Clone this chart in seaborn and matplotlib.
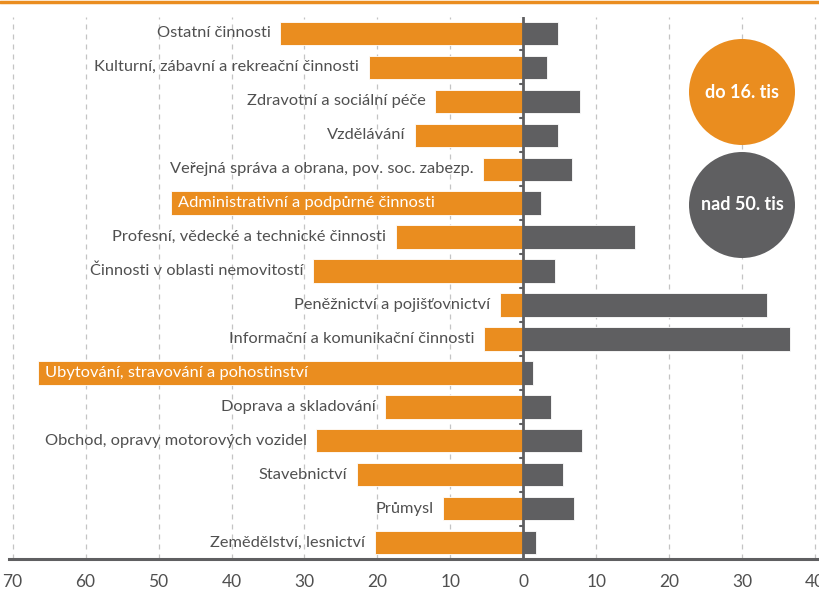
import pandas as pd
import seaborn as sns
import matplotlib.pyplot as plt
from matplotlib.lines import Line2D
from matplotlib.patches import Ellipse

sns.set_style("white")
plt.rcParams['font.family'] = ['Lato', 'DejaVu Sans']

categories = [
    "Ostatní činnosti",
    "Kulturní, zábavní a rekreační činnosti",
    "Zdravotní a sociální péče",
    "Vzdělávání",
    "Veřejná správa a obrana, pov. soc. zabezp.",
    "Administrativní a podpůrné činnosti",
    "Profesní, vědecké a technické činnosti",
    "Činnosti v oblasti nemovitostí",
    "Peněžnictví a pojišťovnictví",
    "Informační a komunikační činnosti",
    "Ubytování, stravování a pohostinství",
    "Doprava a skladování",
    "Obchod, opravy motorových vozidel",
    "Stavebnictví",
    "Průmysl",
    "Zemědělství, lesnictví",
]
do_16 = [33.3, 21.2, 12.1, 14.8, 5.5, 48.3, 17.5, 28.8, 3.2, 5.4, 66.5, 18.9, 28.4, 22.8, 11.0, 20.4]
nad_50 = [4.8, 3.2, 7.8, 4.8, 6.6, 2.4, 15.3, 4.3, 33.4, 36.5, 1.3, 3.8, 8.0, 5.4, 7.0, 1.8]
inside_labels = ["Administrativní a podpůrné činnosti", "Ubytování, stravování a pohostinství"]
xticks = [-70, -60, -50, -40, -30, -20, -10, 0, 10, 20, 30, 40]

ORANGE = "#EA8D1F"
GRAY = "#5F5F61"
TEXT = "#505050"

df = pd.DataFrame({"kat": categories, "low": [-v for v in do_16], "high": nad_50})

fig = plt.figure(figsize=(8.19, 5.92), dpi=100)
ax = fig.add_axes([0.011, 0.056, 0.987, 0.915])

sns.barplot(data=df, y="kat", x="low", color=ORANGE, orient="h", width=0.68,
            saturation=1, ax=ax, edgecolor="white", linewidth=0.6)
sns.barplot(data=df, y="kat", x="high", color=GRAY, orient="h", width=0.68,
            saturation=1, ax=ax, edgecolor="white", linewidth=0.6)

ax.set_xlim(-70.5, 40.3)
ax.set_ylim(len(categories) - 0.53, -0.47)

for x in xticks:
    if x != 0:
        ax.axvline(x, color="#c4c4c4", lw=0.9, ls=(0, (4, 4)), zorder=0)
ax.axvline(0, color=GRAY, lw=2, zorder=5)
for i in range(len(categories) + 1):
    ax.plot([-0.45, 0], [i - 0.5, i - 0.5], color=GRAY, lw=1.5, zorder=5)

for i, (name, v) in enumerate(zip(categories, do_16)):
    if name in inside_labels:
        ax.text(-v + 0.9, i, name, ha="left", va="center", color="white", fontsize=11.8)
    else:
        ax.text(-v - 1.3, i, name, ha="right", va="center", color=TEXT, fontsize=11.8)

ax.set_xticks(xticks)
ax.set_xticklabels([str(abs(t)) for t in xticks], fontsize=12.5, color=TEXT)
ax.tick_params(axis="x", length=0, pad=11)
ax.set_yticks([])
ax.set_xlabel("")
ax.set_ylabel("")
for s in ["top", "left", "right"]:
    ax.spines[s].set_visible(False)
ax.spines["bottom"].set_color(GRAY)
ax.spines["bottom"].set_linewidth(2.2)

# legend circles
for cy, col, lab in [(92, ORANGE, "do 16. tis"), (205, GRAY, "nad 50. tis")]:
    fig.patches.append(Ellipse((742 / 819, 1 - cy / 592), 106 / 819, 106 / 592,
                               transform=fig.transFigure, facecolor=col, edgecolor="none",
                               zorder=10, figure=fig))
    fig.text(742 / 819, 1 - cy / 592, lab, ha="center", va="center", color="white",
             fontsize=13, fontweight="bold", zorder=11)

fig.add_artist(Line2D([0, 1], [0.997, 0.997], transform=fig.transFigure, color=ORANGE, lw=2.5))

fig.savefig("out.png", dpi=100)
